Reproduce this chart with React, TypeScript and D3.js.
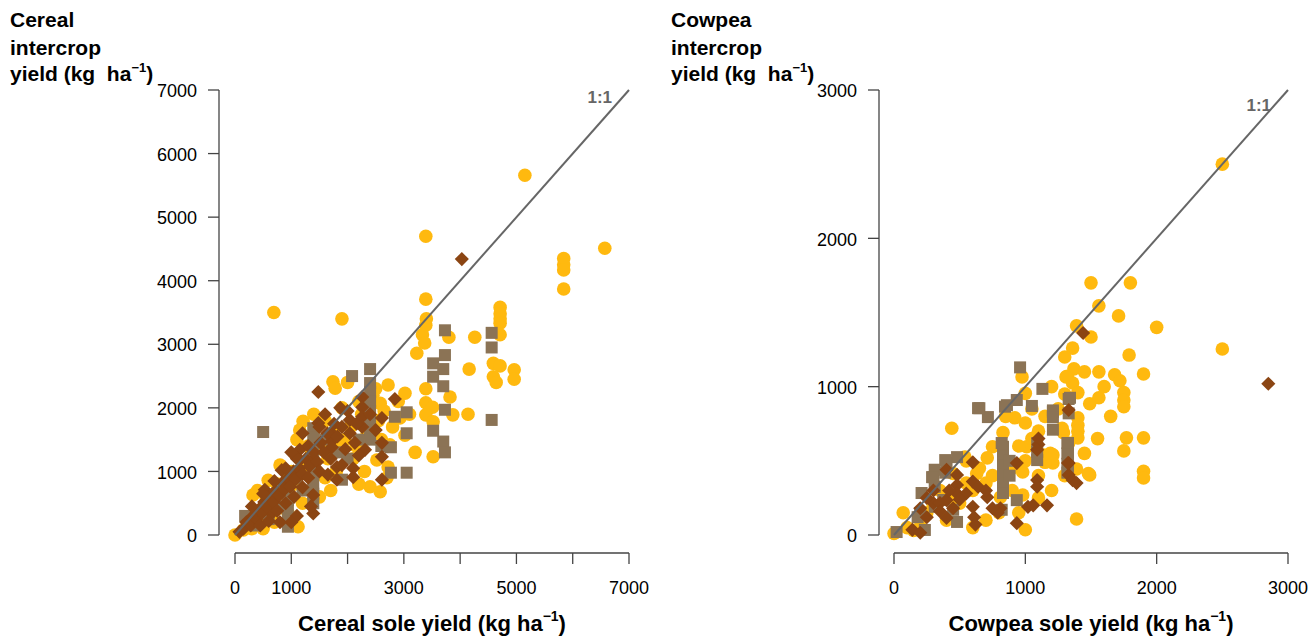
import React from 'react';
import * as d3 from 'd3';

// yields in kg/ha, [sole, intercrop]
const cerealCircles: [number, number][] = [
  [0, 0], [690, 3500], [1900, 3400], [3390, 4700], [5150, 5660], [6570, 4510], [5840, 4350], [5840, 4250], [5840, 4170], [5840, 3870],
  [3390, 3710], [3400, 3400], [3390, 3300], [3330, 3150], [3370, 3020], [3230, 2860], [3800, 3110], [4260, 3110],
  [4710, 3580], [4710, 3480], [4710, 3400], [4710, 3330], [4710, 3150],
  [4160, 2610], [4590, 2700], [4710, 2660], [4960, 2600], [4590, 2490], [4640, 2400], [4960, 2450],
  [3020, 2230], [3390, 2300], [3820, 2170], [3390, 2080], [3510, 2010], [3390, 1890], [3870, 1890], [4140, 1900], [3520, 1780], [3520, 1230],
  [2720, 2360], [2580, 2070], [1740, 2410], [1780, 2310], [1210, 1790], [2400, 760], [2580, 680], [2720, 1070], [1600, 900], [590, 860], [320, 630], [1120, 130],
  [150, 80], [250, 200], [350, 350], [450, 300], [550, 600], [650, 500], [750, 800], [850, 650], [950, 950], [1050, 800], [1150, 1650], [1250, 1100],
  [1350, 1250], [1450, 1000], [1550, 1350], [1650, 1200], [1750, 1600], [1850, 1400], [1950, 1500], [2050, 1700], [2150, 1400], [2250, 1900],
  [2350, 1600], [2450, 2200], [2550, 1800], [2650, 1950], [2750, 1420], [2930, 1840], [3020, 1570], [2520, 1180], [1690, 1420], [940, 350],
  [1200, 500], [1500, 600], [1800, 1000], [2100, 1200], [2300, 1000], [2600, 1500], [2800, 1700], [3100, 1900], [700, 200], [1000, 1000],
  [1300, 1400], [1600, 1800], [1900, 2000], [2200, 2100], [2500, 2300], [800, 1100], [400, 700], [1100, 1500], [1400, 1900], [2000, 2400],
  [2900, 2100], [3200, 1300], [2700, 900], [2200, 800], [1700, 700], [500, 100], [300, 100],
];

const cerealSquares: [number, number][] = [
  [500, 1620], [2080, 2500], [2400, 2610], [2400, 2390], [2400, 2250], [2400, 2100], [2400, 1950], [2400, 1800], [2400, 1650], [2400, 1500],
  [1390, 1680], [1390, 1540], [1390, 1400], [1390, 1250], [1390, 1100], [1390, 950], [1390, 800], [1390, 650], [1390, 500],
  [940, 700], [940, 550], [940, 400], [940, 250], [940, 130], [180, 300], [350, 150], [600, 250], [800, 450], [1100, 900], [1200, 700],
  [1600, 1500], [1800, 1300], [2000, 1200], [2200, 1500], [2600, 1400], [1900, 870],
  [3050, 1930], [2840, 1860], [3050, 1600], [2770, 1380], [2770, 980], [3050, 980],
  [3730, 3220], [3730, 2830], [3520, 2700], [3700, 2610], [3520, 2490], [3700, 2340], [3730, 1970], [3520, 1640], [3700, 1470], [3730, 1300],
  [4560, 3180], [4560, 2950], [4560, 1810],
];

const cerealDiamonds: [number, number][] = [
  [4030, 4340], [1480, 2250], [2840, 2140], [2260, 2170], [2260, 2010], [1870, 2000], [2040, 1810], [2260, 1860], [2260, 1700], [1480, 1760],
  [2610, 1840], [1720, 1600], [1720, 1480], [1720, 1380], [2130, 1450], [2610, 1450], [2610, 1230], [2310, 1340], [1150, 1340], [1150, 1180],
  [1390, 1180], [1810, 1070], [2100, 1050], [2100, 910], [1810, 870], [2610, 870], [830, 1020], [1010, 870], [530, 710], [1390, 630], [1390, 340], [650, 340],
  [80, 50], [150, 100], [200, 200], [280, 150], [320, 300], [380, 250], [420, 400], [480, 350], [520, 520], [560, 450], [620, 600], [680, 520],
  [720, 700], [780, 620], [840, 820], [880, 720], [940, 900], [980, 760], [1040, 1000], [1080, 880], [1140, 1050], [1200, 960], [1260, 1200],
  [1320, 1080], [1400, 1300], [1460, 1150], [1520, 1450], [1580, 1300], [1640, 1600], [1700, 1200], [1760, 1750], [1820, 1550], [1900, 1700],
  [1960, 1350], [2040, 1600], [2160, 1750], [2200, 1250], [450, 150], [600, 220], [750, 380], [900, 500], [1050, 600], [1200, 750], [1300, 900],
  [1500, 1000], [1650, 950], [1900, 1100], [300, 450], [500, 650], [700, 850], [900, 1050], [1100, 1200], [1300, 1400], [1500, 1700],
  [1600, 1900], [1200, 1600], [1000, 1300], [2400, 1900], [2500, 1650], [2000, 1950], [1350, 450], [1100, 300], [1000, 200], [800, 200],
];

const cowpeaCircles: [number, number][] = [
  [2500, 2500], [1500, 1700], [1800, 1700], [1560, 1545], [1710, 1477], [1390, 1410], [2000, 1400], [1500, 1335], [1360, 1260], [1790, 1213],
  [2500, 1254], [1370, 1120], [1560, 1100], [1680, 1080], [1720, 1040], [1900, 1085], [1320, 1070], [1360, 1025], [1400, 960], [1560, 925],
  [1490, 885], [1750, 960], [1750, 910], [1750, 865], [1400, 790], [1400, 740], [1400, 700], [1400, 655], [1290, 690], [1770, 655], [1900, 655],
  [1750, 567], [1900, 430], [1900, 385], [1490, 405], [1390, 445], [1210, 540], [1210, 485], [1390, 108],
  [440, 720], [1310, 1066], [975, 1066], [1000, 955], [920, 790], [1000, 755], [830, 690], [1010, 595], [750, 595], [710, 520], [1190, 550],
  [980, 425], [1150, 490], [1480, 415], [630, 415], [540, 525], [450, 415], [980, 270], [1000, 35], [0, 10], [70, 150], [500, 215], [400, 100],
  [810, 255], [1130, 540], [1330, 620], [1280, 720],
  [100, 50], [200, 100], [300, 200], [350, 300], [450, 250], [550, 350], [600, 300], [650, 450], [700, 350], [750, 400], [850, 500], [900, 450],
  [950, 600], [1050, 650], [1100, 700], [1150, 800], [1250, 850], [1300, 950], [1050, 850], [900, 300], [800, 150], [700, 100], [600, 50],
  [1100, 400], [1200, 300], [850, 800], [1000, 500], [1200, 1000], [1300, 1200], [1450, 1100], [1600, 1000], [1650, 800], [1550, 650],
  [1450, 550], [1300, 400], [1100, 250], [950, 150], [550, 500], [250, 150], [150, 30],
];

const cowpeaSquares: [number, number][] = [
  [1330, 917], [1210, 830], [1210, 710], [1330, 820], [1320, 620], [1320, 550], [1320, 480], [1320, 420],
  [960, 1130], [1130, 985], [650, 855], [715, 795], [845, 865], [935, 910], [1050, 870], [1210, 840], [1210, 795],
  [830, 595], [830, 530], [830, 470], [830, 410], [830, 350], [830, 283], [880, 500], [880, 400], [1090, 620], [1090, 560], [1090, 505],
  [1325, 620], [1325, 540], [1325, 460], [935, 235],
  [480, 525], [400, 485], [300, 390], [210, 283], [480, 88], [235, 34], [20, 20], [200, 148], [310, 190], [375, 236], [450, 170],
  [640, 855], [860, 875], [1340, 925], [390, 505], [390, 420], [310, 440], [290, 390], [180, 120], [310, 325], [820, 620], [820, 170],
];

const cowpeaDiamonds: [number, number][] = [
  [1440, 1362], [2850, 1020], [1330, 843], [1330, 485], [1330, 405], [1360, 370], [1390, 350],
  [1100, 650], [1100, 610], [1090, 575], [935, 485], [600, 490], [600, 360], [640, 325], [480, 405], [480, 337], [400, 440], [710, 255],
  [1090, 370], [1090, 325], [1325, 485], [1165, 200], [1020, 190], [935, 80], [810, 180], [790, 150], [600, 190], [610, 120], [620, 70],
  [400, 235], [400, 115], [300, 215], [350, 215], [140, 35], [200, 15], [480, 280], [550, 280], [250, 250], [200, 180], [350, 160],
  [420, 300], [500, 240], [700, 300], [750, 180], [1060, 200], [300, 300], [450, 180], [250, 120],
];

const cerealTicks = [0, 1000, 2000, 3000, 4000, 5000, 6000, 7000];
const cerealXLabels = [0, 1000, 3000, 5000, 7000];
const cowpeaTicks = [0, 1000, 2000, 3000];

const ORANGE = '#FFB90F';
const TAUPE = '#8B7355';
const BROWN = '#8B4513';
const GREY = '#666666';
const FONT = '"Liberation Sans", Arial, sans-serif';

type PanelProps = {
  circles: [number, number][];
  squares: [number, number][];
  diamonds: [number, number][];
  max: number;
  ticks: number[];
  xLabels: number[];
  x0: number;
  x1: number;
  axisX: number;
  titleX: number;
  crop: string;
  labelY: number;
};

function Panel({ circles, squares, diamonds, max, ticks, xLabels, x0, x1, axisX, titleX, crop, labelY }: PanelProps) {
  const x = d3.scaleLinear().domain([0, max]).range([x0, x1]);
  const y = d3.scaleLinear().domain([0, max]).range([535, 90]);
  const axisY = 553;
  const diamond = d3.symbol().type(d3.symbolSquare).size(100);
  return (
    <g fontFamily={FONT}>
      {/* y axis */}
      <line x1={axisX} x2={axisX} y1={y(0)} y2={y(max)} stroke="#444" strokeWidth={1.3} />
      {ticks.map((t) => (
        <g key={'y' + t}>
          <line x1={axisX - 11} x2={axisX} y1={y(t)} y2={y(t)} stroke="#444" strokeWidth={1.3} />
          <text x={axisX - 22} y={y(t)} dy="0.4em" textAnchor="end" fontSize={18}>{t}</text>
        </g>
      ))}
      {/* x axis */}
      <line x1={x(0)} x2={x(max)} y1={axisY} y2={axisY} stroke="#444" strokeWidth={1.3} />
      {ticks.map((t) => (
        <line key={'x' + t} x1={x(t)} x2={x(t)} y1={axisY} y2={axisY + 11} stroke="#444" strokeWidth={1.3} />
      ))}
      {xLabels.map((t) => (
        <text key={'xl' + t} x={x(t)} y={594} textAnchor="middle" fontSize={18}>{t}</text>
      ))}
      <text x={(x(0) + x(max)) / 2} y={631} textAnchor="middle" fontSize={22} fontWeight="bold">
        {crop} sole yield (kg ha<tspan fontSize={14} dy={-10}>−1</tspan><tspan dy={10}>)</tspan>
      </text>
      <text x={titleX} y={27} fontSize={21} fontWeight="bold">{crop}</text>
      <text x={titleX} y={55} fontSize={21} fontWeight="bold">intercrop</text>
      <text x={titleX} y={81} fontSize={21} fontWeight="bold" style={{ whiteSpace: 'pre' }}>
        {'yield (kg  ha'}<tspan fontSize={13} dy={-9}>−1</tspan><tspan dy={9}>)</tspan>
      </text>
      {/* points */}
      {circles.map((d, i) => (
        <circle key={'c' + i} cx={x(d[0])} cy={y(d[1])} r={6.8} fill={ORANGE} />
      ))}
      {squares.map((d, i) => (
        <rect key={'s' + i} x={x(d[0]) - 6} y={y(d[1]) - 6} width={12} height={12} fill={TAUPE} />
      ))}
      {diamonds.map((d, i) => (
        <path key={'d' + i} d={diamond() as string} transform={`translate(${x(d[0])},${y(d[1])}) rotate(45)`} fill={BROWN} />
      ))}
      {/* 1:1 line */}
      <line x1={x(0)} y1={y(0)} x2={x(max)} y2={y(max)} stroke={GREY} strokeWidth={2} />
      <text x={x(max) - 17} y={labelY} textAnchor="end" fontSize={17} fontWeight="bold" fill={GREY}>1:1</text>
    </g>
  );
}

export default function App() {
  return (
    <svg width={1311} height={640} style={{ position: 'absolute', left: 0, top: 0, background: '#fff' }}>
      <rect width={1311} height={640} fill="#fff" />
      <Panel circles={cerealCircles} squares={cerealSquares} diamonds={cerealDiamonds} max={7000}
        ticks={cerealTicks} xLabels={cerealXLabels} x0={235} x1={629} axisX={219} titleX={10} crop="Cereal" labelY={103} />
      <Panel circles={cowpeaCircles} squares={cowpeaSquares} diamonds={cowpeaDiamonds} max={3000}
        ticks={cowpeaTicks} xLabels={cowpeaTicks} x0={894} x1={1288} axisX={879} titleX={671} crop="Cowpea" labelY={111} />
    </svg>
  );
}
